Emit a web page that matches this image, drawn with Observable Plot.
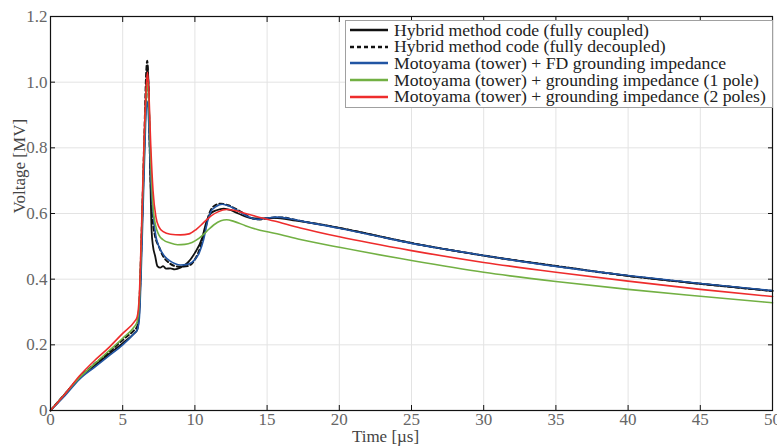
<!DOCTYPE html>
<html>
<head>
<meta charset="utf-8">
<script src="https://cdn.jsdelivr.net/npm/d3@7"></script>
<script src="https://cdn.jsdelivr.net/npm/@observablehq/plot@0.6"></script>
<style>
  html, body { margin: 0; padding: 0; background: #fff; }
  #wrap { position: relative; width: 777px; height: 446px; font-family: "Liberation Serif", serif; }
  #legend { position: absolute; left: 345px; top: 20px; width: 428px; height: 88px; border: 1.5px solid #a0a0a0; background: #fff; box-sizing: border-box; padding-top: 1px; }
  .row { display: flex; align-items: center; height: 16.6px; color: #222; white-space: nowrap; }
  .row span { line-height: 15px; display: inline-block; }
  .row svg { margin-left: 3px; margin-right: 5px; flex: none; }
</style>
</head>
<body>
<div id="wrap"><div id="legend"></div></div>
<script>
// Series names and colours
const names = [
  "Hybrid method code (fully coupled)",
  "Hybrid method code (fully decoupled)",
  "Motoyama (tower) + FD grounding impedance",
  "Motoyama (tower) + grounding impedance (1 pole)",
  "Motoyama (tower) + grounding impedance (2 poles)"
];
const colors = ["#111111", "#111111", "#2155a3", "#72b043", "#ee2c2c"];
const dashes = [null, "4,3", null, null, null];
const xLabel = "Time [µs]";
const yLabel = "Voltage [MV]";

// Axis ticks
const xTicks = [0, 5, 10, 15, 20, 25, 30, 35, 40, 45, 50];
const yTicks = [0, 0.2, 0.4, 0.6, 0.8, 1.0, 1.2];
const yTickLabels = ["0", "0.2", "0.4", "0.6", "0.8", "1.0", "1.2"];

// Time [µs] and voltage [MV] for each series
const tCoupled = [0,1,2,3,4,5,5.8,6.0,6.15,6.3,6.5,6.65,6.72,6.8,6.9,7.0,7.1,7.25,7.4,7.6,7.8,8.0,8.3,8.6,9.0,9.5,10.0,10.5,10.8,11.1,11.5,12.0,12.5,13,14,15,15.5,17,20,25,30,35,40,45,50];
const vCoupled = [0,0.05,0.1,0.135,0.17,0.205,0.235,0.245,0.3,0.5,0.8,1.0,1.05,0.98,0.75,0.55,0.5,0.47,0.44,0.435,0.44,0.432,0.433,0.43,0.435,0.45,0.48,0.525,0.575,0.6,0.61,0.615,0.61,0.6,0.585,0.585,0.587,0.578,0.556,0.51,0.472,0.44,0.41,0.386,0.364];

const tDecoupled = [0,1,2,3,4,5,5.8,6.0,6.15,6.3,6.5,6.62,6.7,6.8,6.9,7.0,7.1,7.25,7.5,7.8,8.2,8.6,9.0,9.5,10.0,10.4,10.7,11.0,11.4,11.8,12.3,13,14,14.5,15.2,16,17,20,25,30,35,40,45,50];
const vDecoupled = [0,0.05,0.1,0.14,0.175,0.215,0.245,0.255,0.32,0.52,0.83,1.02,1.065,0.95,0.75,0.63,0.57,0.53,0.5,0.47,0.45,0.44,0.438,0.44,0.46,0.5,0.55,0.6,0.625,0.63,0.625,0.61,0.585,0.582,0.587,0.588,0.58,0.556,0.51,0.472,0.44,0.41,0.386,0.364];

const tFD = [0,1,2,3,4,5,5.8,6.0,6.15,6.3,6.5,6.65,6.72,6.8,6.95,7.1,7.3,7.5,7.9,8.3,8.6,9.0,9.5,10.0,10.3,10.6,10.9,11.1,11.5,11.9,12.4,13,13.7,14.3,15,15.6,16.5,17.5,20,22.5,25,27.5,30,35,40,45,50];
const vFD = [0,0.045,0.095,0.13,0.165,0.2,0.235,0.245,0.28,0.45,0.75,0.93,0.94,0.88,0.7,0.6,0.53,0.5,0.47,0.455,0.448,0.443,0.445,0.46,0.48,0.52,0.58,0.605,0.622,0.628,0.622,0.608,0.59,0.582,0.586,0.589,0.585,0.576,0.555,0.532,0.509,0.49,0.472,0.439,0.411,0.387,0.365];

const t1Pole = [0,1,2,3,4,5,5.8,6.0,6.15,6.3,6.5,6.65,6.72,6.8,6.95,7.1,7.3,7.5,7.8,8.3,8.8,9.3,9.8,10.3,10.8,11.3,11.8,12.2,12.7,13.5,14.5,15.5,17.3,20,25,30,35,40,45,50];
const v1Pole = [0,0.05,0.1,0.14,0.18,0.22,0.255,0.27,0.33,0.53,0.83,0.98,1.0,0.95,0.75,0.62,0.56,0.535,0.52,0.51,0.505,0.506,0.512,0.525,0.545,0.565,0.578,0.581,0.576,0.563,0.549,0.54,0.521,0.497,0.457,0.421,0.393,0.369,0.348,0.328];

const t2Poles = [0,1,2,3,4,5,5.8,6.0,6.15,6.3,6.5,6.65,6.72,6.8,6.95,7.1,7.3,7.5,7.8,8.3,9.0,9.6,10.1,10.6,11.1,11.6,12.2,12.7,13.5,14.5,15.5,17.3,20,25,30,35,40,45,50];
const v2Poles = [0,0.05,0.105,0.15,0.19,0.235,0.27,0.285,0.35,0.55,0.85,1.0,1.03,0.98,0.8,0.67,0.59,0.56,0.545,0.537,0.535,0.538,0.552,0.572,0.592,0.605,0.612,0.61,0.6,0.588,0.577,0.556,0.529,0.487,0.451,0.421,0.394,0.369,0.347];

const times = [tCoupled, tDecoupled, tFD, t1Pole, t2Poles];
const values = [vCoupled, vDecoupled, vFD, v1Pole, v2Poles];

const data = names.flatMap((name, i) =>
  times[i].map((t, j) => ({series: name, t, v: values[i][j]}))
);
const seriesData = i => data.filter(d => d.series === names[i]);

const font = "Liberation Serif, serif";
const lineMarks = [0, 1, 2, 3, 4].map(i =>
  Plot.line(seriesData(i), {
    x: "t", y: "v", stroke: colors[i],
    strokeWidth: i === 1 ? 2 : i === 0 ? 1.8 : 1.6,
    strokeDasharray: dashes[i] ?? undefined,
    curve: "monotone-x"
  })
);

const chart = Plot.plot({
  width: 777, height: 446,
  marginLeft: 50, marginRight: 5, marginTop: 16, marginBottom: 36,
  style: {fontFamily: font, fontSize: "16px", background: "#fff", overflow: "visible"},
  x: {domain: [0, 50]},
  y: {domain: [0, 1.2]},
  marks: [
    Plot.gridX(xTicks, {stroke: "#e3e3e3", strokeOpacity: 1, strokeWidth: 1}),
    Plot.gridY(yTicks, {stroke: "#e3e3e3", strokeOpacity: 1, strokeWidth: 1}),
    ...lineMarks,
    Plot.axisX(xTicks, {anchor: "bottom", tickSize: -5, stroke: "#111", text: null, label: null}),
    Plot.axisX(xTicks, {anchor: "top", tickSize: -5, stroke: "#111", text: null, label: null}),
    Plot.axisY(yTicks, {anchor: "left", tickSize: -5, stroke: "#111", text: null, label: null}),
    Plot.axisY(yTicks, {anchor: "right", tickSize: -5, stroke: "#111", text: null, label: null}),
    Plot.text(xTicks, {x: d => d, text: d => String(d), frameAnchor: "bottom", lineAnchor: "top", dy: 2, fill: "#666", fontSize: 17}),
    Plot.text(yTicks, {y: d => d, text: (d, i) => yTickLabels[i], frameAnchor: "left", textAnchor: "end", dx: -3, fill: "#666", fontSize: 17}),
    Plot.text([xLabel], {frameAnchor: "bottom", text: d => d, lineAnchor: "top", dx: -26, dy: 19, fill: "#444", fontSize: 17}),
    Plot.text([yLabel], {frameAnchor: "left", text: d => d, rotate: -90, dx: -31, fill: "#444", fontSize: 17}),
    Plot.frame({stroke: "#111", strokeWidth: 1.2})
  ]
});
document.getElementById("wrap").prepend(chart);

// Legend: fit the font size so the longest entry spans the box like the reference
const ctx = document.createElement("canvas").getContext("2d");
ctx.font = "100px 'Liberation Serif'";
const longest = d3.max(names, n => ctx.measureText(n).width);
const legendFont = Math.min(18, 100 * 372 / longest);
const legend = d3.select("#legend");
names.forEach((name, i) => {
  const row = legend.append("div").attr("class", "row");
  const s = row.append("svg").attr("width", 40).attr("height", 10);
  s.append("line").attr("x1", 1).attr("x2", 39).attr("y1", 5).attr("y2", 5)
    .attr("stroke", colors[i]).attr("stroke-width", 2.6)
    .attr("stroke-dasharray", dashes[i]);
  row.append("span").style("font-size", legendFont + "px").text(name);
});
</script>
</body>
</html>
